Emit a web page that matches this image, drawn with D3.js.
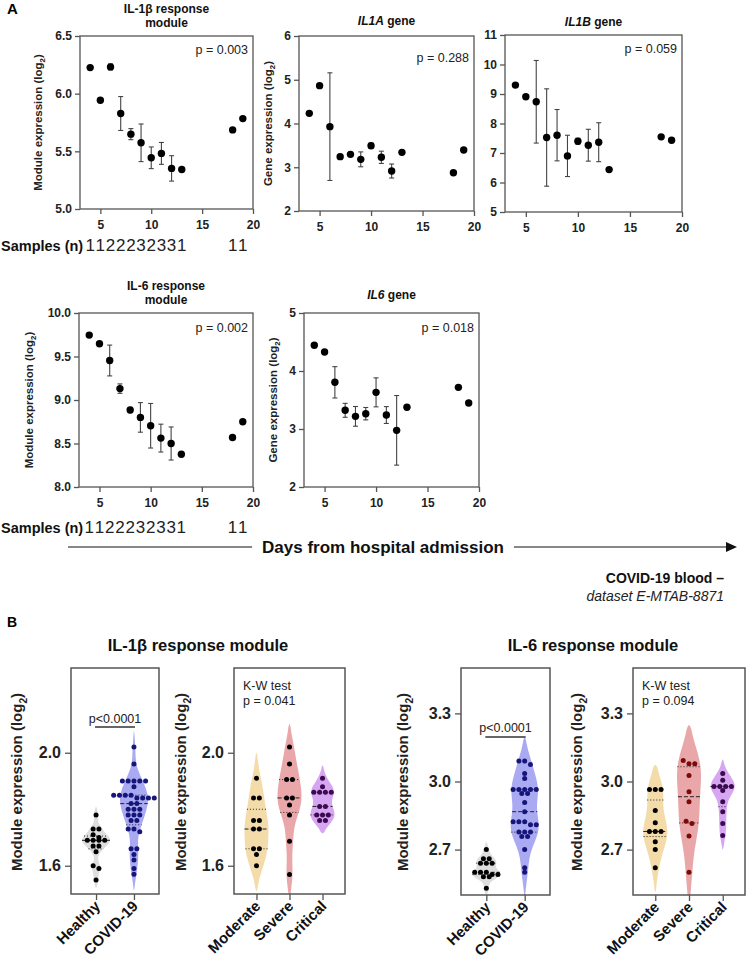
<!DOCTYPE html>
<html><head><meta charset="utf-8">
<script src="https://cdn.jsdelivr.net/npm/d3@7"></script>
<style>body{margin:0;background:#fff}</style>
</head><body><svg id="c" width="747" height="971"></svg>
<script>
// ---------------- DATA ----------------
const days = [4,5,6,7,8,9,10,11,12,13,18,19];
const samplesN = [1,1,2,2,2,3,2,3,3,1,1,1];
const il1bModuleMean = [6.226,5.943,6.232,5.828,5.649,5.574,5.444,5.482,5.352,5.343,5.686,5.784];
const il1bModuleSem  = [null,null,0.026,0.147,0.048,0.163,0.094,0.095,0.11,null,null,null];
const il1aGeneMean = [4.232,4.865,3.928,3.242,3.295,3.181,3.493,3.227,2.914,3.341,2.876,3.394];
const il1aGeneSem  = [null,null,1.23,0.05,0.05,0.17,0.06,0.14,0.16,null,null,null];
const il1bGeneMean = [9.302,8.906,8.736,7.525,7.604,6.902,7.40,7.264,7.366,6.438,7.547,7.434];
const il1bGeneSem  = [null,null,1.40,1.65,0.87,0.70,0.10,0.54,0.66,null,null,null];
const il6ModuleMean = [9.746,9.646,9.454,9.131,8.885,8.80,8.704,8.562,8.50,8.377,8.569,8.75];
const il6ModuleSem  = [null,null,0.177,0.054,0.03,0.17,0.256,0.16,0.19,null,null,null];
const il6GeneMean = [4.443,4.328,3.805,3.322,3.218,3.264,3.632,3.241,2.977,3.374,3.718,3.448];
const il6GeneSem  = [null,null,0.27,0.12,0.17,0.107,0.25,0.145,0.60,null,null,null];
const xTicksA = [5,10,15,20];
const yTicksIl1bModule = [5.0,5.5,6.0,6.5];
const yTicksIl1aGene = [2,3,4,5,6];
const yTicksIl1bGene = [5,6,7,8,9,10,11];
const yTicksIl6Module = [8.0,8.5,9.0,9.5,10.0];
const yTicksIl6Gene = [2,3,4,5];

const groupsHC = ['Healthy','COVID-19'];
const groupsSev = ['Moderate','Severe','Critical'];
const il1bHealthy = [1.78,1.73,1.73,1.71,1.70,1.69,1.69,1.69,1.69,1.67,1.67,1.65,1.60,1.59,1.55];
const il1bCovid = [2.02,1.96,1.90,1.90,1.90,1.90,1.90,1.88,1.85,1.85,1.85,1.85,1.84,1.84,1.84,1.84,1.82,1.82,1.80,1.80,1.80,1.78,1.78,1.78,1.76,1.76,1.73,1.73,1.72,1.66,1.66,1.64,1.62,1.59,1.57];
const il1bModerate = [1.91,1.84,1.84,1.76,1.76,1.73,1.73,1.66,1.66,1.64,1.60];
const il1bSevere = [2.02,1.96,1.905,1.905,1.84,1.84,1.815,1.78,1.687,1.569];
const il1bCritical = [1.91,1.88,1.86,1.86,1.86,1.86,1.81,1.81,1.78,1.78,1.78,1.76,1.76];
const il6Healthy = [2.70,2.66,2.66,2.64,2.64,2.64,2.60,2.60,2.60,2.59,2.59,2.58,2.58,2.53];
const il6Covid = [3.09,3.09,3.075,3.035,3.013,2.965,2.965,2.965,2.965,2.965,2.947,2.947,2.908,2.867,2.823,2.823,2.823,2.809,2.809,2.777,2.777,2.777,2.758,2.758,2.70,2.62,2.60];
const il6Moderate = [2.965,2.965,2.965,2.872,2.818,2.78,2.78,2.78,2.735,2.70,2.62];
const il6Severe = [3.092,3.078,3.078,3.026,2.955,2.911,2.825,2.815,2.76,2.60];
const il6Critical = [3.035,3.006,2.978,2.978,2.978,2.978,2.96,2.911,2.867,2.815,2.762];
const yTicksIl1bB = [1.6,2.0];
const yTicksIl6B = [2.7,3.0,3.3];

// ---------------- DRAW ----------------
const FONT = 'Arial, "Liberation Sans", Helvetica, sans-serif';
const AX = '#555';
const svg = d3.select('#c');

function styleAxis(sel, fs) {
  sel.select('.domain').remove();
  sel.selectAll('line').attr('stroke', AX).attr('stroke-width', 1.3);
  sel.selectAll('text').attr('font-family', FONT).attr('font-weight', 'bold')
     .attr('font-size', fs).attr('fill', '#222');
}
function ylabel(g, x, yc, txt, fs) {
  const t = g.append('text').attr('transform', `translate(${x},${yc}) rotate(-90)`)
    .attr('text-anchor', 'middle').attr('font-family', FONT).attr('font-weight', 'bold')
    .attr('font-size', fs).attr('fill', '#222');
  t.append('tspan').text(txt + ' (log');
  t.append('tspan').text('2').attr('font-size', fs * 0.68).attr('dy', fs * 0.3);
  t.append('tspan').text(')').attr('dy', -fs * 0.3);
}

function scatterPanel(c) {
  const x = d3.scaleLinear().domain([3, 20]).range([c.left, c.right]);
  const y = d3.scaleLinear().domain(c.ydom).range([c.bottom, c.top]);
  const g = svg.append('g');
  g.append('g').attr('transform', `translate(${c.left},0)`)
    .call(d3.axisLeft(y).tickValues(c.yticks).tickFormat(c.fmt).tickSize(5).tickPadding(3))
    .call(s => styleAxis(s, 12));
  g.append('g').attr('transform', `translate(0,${c.bottom})`)
    .call(d3.axisBottom(x).tickValues(xTicksA).tickSize(5).tickPadding(6))
    .call(s => styleAxis(s, 12));
  g.append('rect').attr('x', c.left).attr('y', c.top).attr('width', c.right - c.left)
    .attr('height', c.bottom - c.top).attr('fill', 'none').attr('stroke', AX).attr('stroke-width', 1.3);
  c.title.forEach((line, li) => {
    const t = g.append('text').attr('x', (c.left + c.right) / 2).attr('y', c.titleY + li * 14)
      .attr('text-anchor', 'middle').attr('font-family', FONT).attr('font-weight', 'bold')
      .attr('font-size', 12).attr('fill', '#111');
    line.forEach(seg => t.append('tspan').text(seg[0]).attr('font-style', seg[1] ? 'italic' : 'normal'));
  });
  g.append('text').attr('x', c.right - 5).attr('y', c.pY).attr('text-anchor', 'end')
    .attr('font-family', FONT).attr('font-size', 12.5).attr('fill', '#222').text(c.p);
  if (c.ylab) ylabel(g, c.ylabX, (c.top + c.bottom) / 2, c.ylab, 11.5);
  const eb = g.append('g').attr('stroke', '#444').attr('stroke-width', 1.1);
  days.forEach((d, i) => {
    const s = c.sem[i]; if (s == null) return;
    const m = c.mean[i];
    eb.append('line').attr('x1', x(d)).attr('x2', x(d)).attr('y1', y(m - s)).attr('y2', y(m + s));
    [m - s, m + s].forEach(v => eb.append('line').attr('x1', x(d) - 2.5).attr('x2', x(d) + 2.5)
      .attr('y1', y(v)).attr('y2', y(v)));
  });
  g.append('g').selectAll('circle').data(days).join('circle')
    .attr('cx', d => x(d)).attr('cy', (d, i) => y(c.mean[i])).attr('r', 3.7).attr('fill', '#000');
  if (c.samplesY) {
    g.append('text').attr('x', 1).attr('y', c.samplesY).attr('font-family', FONT)
      .attr('font-weight', 'bold').attr('font-size', 14.5).attr('fill', '#111').text('Samples (n)');
    g.append('g').selectAll('text').data(days).join('text')
      .attr('x', d => x(d)).attr('y', c.samplesY).attr('text-anchor', 'middle')
      .attr('font-family', FONT).attr('font-size', 17).attr('fill', '#222')
      .text((d, i) => samplesN[i]);
  }
}

scatterPanel({left: 80, right: 253, top: 36, bottom: 209, ydom: [5, 6.5], yticks: yTicksIl1bModule,
  fmt: d3.format('.1f'), mean: il1bModuleMean, sem: il1bModuleSem,
  title: [[['IL-1β response', 0]], [['module', 0]]], titleY: 13, p: 'p = 0.003', pY: 54,
  ylab: 'Module expression', ylabX: 42, samplesY: 251});
scatterPanel({left: 299, right: 474, top: 36, bottom: 211, ydom: [2, 6], yticks: yTicksIl1aGene,
  fmt: d3.format('d'), mean: il1aGeneMean, sem: il1aGeneSem,
  title: [[['IL1A', 1], [' gene', 0]]], titleY: 25, p: 'p = 0.288', pY: 62,
  ylab: 'Gene expression', ylabX: 272});
scatterPanel({left: 505, right: 682, top: 35, bottom: 212, ydom: [5, 11], yticks: yTicksIl1bGene,
  fmt: d3.format('d'), mean: il1bGeneMean, sem: il1bGeneSem,
  title: [[['IL1B', 1], [' gene', 0]]], titleY: 26, p: 'p = 0.059', pY: 53});
scatterPanel({left: 79, right: 253, top: 313, bottom: 487, ydom: [8, 10], yticks: yTicksIl6Module,
  fmt: d3.format('.1f'), mean: il6ModuleMean, sem: il6ModuleSem,
  title: [[['IL-6 response', 0]], [['module', 0]]], titleY: 290, p: 'p = 0.002', pY: 332,
  ylab: 'Module expression', ylabX: 33, samplesY: 533});
scatterPanel({left: 304, right: 479, top: 313, bottom: 487, ydom: [2, 5], yticks: yTicksIl6Gene,
  fmt: d3.format('d'), mean: il6GeneMean, sem: il6GeneSem,
  title: [[['IL6', 1], [' gene', 0]]], titleY: 299, p: 'p = 0.018', pY: 332,
  ylab: 'Gene expression', ylabX: 277});

svg.append('text').attr('x', 7).attr('y', 14).attr('font-family', FONT).attr('font-weight', 'bold')
  .attr('font-size', 15).text('A');
svg.append('text').attr('x', 7).attr('y', 627).attr('font-family', FONT).attr('font-weight', 'bold')
  .attr('font-size', 14).text('B');

{
  const ay = 547;
  const t = svg.append('text').attr('x', 383).attr('y', ay + 6).attr('text-anchor', 'middle')
    .attr('font-family', FONT).attr('font-weight', 'bold').attr('font-size', 17).attr('fill', '#111')
    .text('Days from hospital admission');
  const w = t.node().getComputedTextLength();
  svg.append('line').attr('x1', 68).attr('x2', 383 - w / 2 - 10).attr('y1', ay).attr('y2', ay)
    .attr('stroke', '#111').attr('stroke-width', 1.2);
  svg.append('line').attr('x1', 383 + w / 2 + 10).attr('x2', 728).attr('y1', ay).attr('y2', ay)
    .attr('stroke', '#111').attr('stroke-width', 1.2);
  svg.append('path').attr('d', `M737,${ay} L726,${ay - 5} L726,${ay + 5} Z`).attr('fill', '#111');
  svg.append('text').attr('x', 724).attr('y', 583).attr('text-anchor', 'end').attr('font-family', FONT)
    .attr('font-weight', 'bold').attr('font-size', 14).attr('fill', '#111').text('COVID-19 blood –');
  svg.append('text').attr('x', 724).attr('y', 601).attr('text-anchor', 'end').attr('font-family', FONT)
    .attr('font-style', 'italic').attr('font-size', 14).attr('fill', '#222').text('dataset E-MTAB-8871');
}

[['IL-1β response module', 198], ['IL-6 response module', 593]].forEach(([t, cx]) => {
  svg.append('text').attr('x', cx).attr('y', 651).attr('text-anchor', 'middle')
    .attr('font-family', FONT).attr('font-weight', 'bold').attr('font-size', 16.5)
    .attr('fill', '#111').text(t);
});

let clipId = 0;
function violinPanel(c) {
  const x = d3.scalePoint().domain(c.groups.map(d => d.name)).range([c.left, c.right]).padding(c.pad);
  const y = d3.scaleLinear().domain(c.ydom).range([c.bottom, c.top]);
  const g = svg.append('g');
  const id = 'clip' + (clipId++);
  g.append('clipPath').attr('id', id).append('rect').attr('x', c.left).attr('y', c.top)
    .attr('width', c.right - c.left).attr('height', c.bottom - c.top);
  const body = g.append('g').attr('clip-path', `url(#${id})`);
  c.groups.forEach(gr => {
    const vals = gr.values.slice().sort(d3.ascending);
    const n = vals.length;
    const sd = d3.deviation(vals);
    const iqr = d3.quantile(vals, 0.75) - d3.quantile(vals, 0.25);
    const bw = 0.9 * Math.min(sd, iqr / 1.34 || sd) * Math.pow(n, -0.2);
    const dens = v => d3.mean(vals, d => Math.exp(-0.5 * ((v - d) / bw) ** 2));
    const lo = vals[0] - 1.7 * bw, hi = vals[n - 1] + 1.7 * bw;
    const pts = d3.range(61).map(i => lo + (hi - lo) * i / 60);
    const dv = pts.map(dens);
    const mx = d3.max(dv);
    const wf = v => c.maxW * dens(v) / mx;
    const prof = pts.map((p, i) => [p, (i === 0 || i === 60) ? 0 : c.maxW * dv[i] / mx]);
    const cx = x(gr.name);
    body.append('path').datum(prof)
      .attr('d', d3.area().curve(d3.curveBasis).y(d => y(d[0]))
        .x0(d => cx - d[1]).x1(d => cx + d[1]))
      .attr('fill', gr.fill).attr('stroke', 'none');
    [[0.25, '1,2'], [0.5, '4,2'], [0.75, '1,2']].forEach(([q, da]) => {
      const v = d3.quantile(vals, q);
      const w = wf(v);
      body.append('line').attr('x1', cx - w).attr('x2', cx + w).attr('y1', y(v)).attr('y2', y(v))
        .attr('stroke', '#222').attr('stroke-width', 1).attr('stroke-dasharray', da);
    });
    const desc = vals.slice().sort(d3.descending);
    const rows = [];
    desc.forEach(v => {
      const last = rows[rows.length - 1];
      if (last && Math.abs(y(v) - y(last[0])) < 3.5) last.push(v); else rows.push([v]);
    });
    const dots = [];
    rows.forEach(r => r.forEach((v, i) => dots.push([cx + (i - (r.length - 1) / 2) * 5.8, y(v)])));
    body.append('g').selectAll('circle').data(dots).join('circle')
      .attr('cx', d => d[0]).attr('cy', d => d[1]).attr('r', 2.5).attr('fill', gr.dot);
  });
  g.append('g').attr('transform', `translate(${c.left},0)`)
    .call(d3.axisLeft(y).tickValues(c.yticks).tickFormat(d3.format('.1f')).tickSize(6).tickPadding(4))
    .call(s => styleAxis(s, 16));
  g.append('g').attr('transform', `translate(0,${c.bottom})`)
    .call(d3.axisBottom(x).tickSize(6).tickFormat(''))
    .call(s => styleAxis(s, 15));
  g.append('rect').attr('x', c.left).attr('y', c.top).attr('width', c.right - c.left)
    .attr('height', c.bottom - c.top).attr('fill', 'none').attr('stroke', AX).attr('stroke-width', 1.5);
  g.append('g').selectAll('text').data(c.groups).join('text')
    .attr('transform', d => `translate(${x(d.name) + 5},${c.bottom + 13}) rotate(-45)`)
    .attr('text-anchor', 'end').attr('font-family', FONT).attr('font-weight', 'bold')
    .attr('font-size', 15).attr('fill', '#111').text(d => d.name);
  ylabel(g, c.ylabX, 782, 'Module expression', 15);
  if (c.pair) {
    const [a, b] = c.groups.map(d => x(d.name));
    g.append('text').attr('x', (a + b) / 2).attr('y', c.pair.ty).attr('text-anchor', 'middle')
      .attr('font-family', FONT).attr('font-size', 12.5).attr('fill', '#222').text('p<0.0001');
    g.append('line').attr('x1', a - 1).attr('x2', b + 1).attr('y1', c.pair.ly).attr('y2', c.pair.ly)
      .attr('stroke', '#333').attr('stroke-width', 1.3);
  }
  if (c.kw) {
    g.append('text').attr('x', c.left + 9).attr('y', c.top + 22).attr('font-family', FONT)
      .attr('font-size', 12.5).attr('fill', '#222').text('K-W test');
    g.append('text').attr('x', c.left + 9).attr('y', c.top + 37).attr('font-family', FONT)
      .attr('font-size', 12.5).attr('fill', '#222').text(c.kw);
  }
}

const cHealthyFill = '#dedede', cCovidFill = '#aaaaf2', cModFill = '#f3dcaa',
      cSevFill = '#e9a7aa', cCritFill = '#d6a6f2';
violinPanel({left: 71, right: 159, top: 668, bottom: 894, ydom: [1.5, 2.3], yticks: yTicksIl1bB, pad: 0.66,
  maxW: 14, ylabX: 22, pair: {ty: 723, ly: 727},
  groups: [{name: groupsHC[0], values: il1bHealthy, fill: cHealthyFill, dot: '#000'},
           {name: groupsHC[1], values: il1bCovid, fill: cCovidFill, dot: '#16167a'}]});
violinPanel({left: 234, right: 345, top: 668, bottom: 894, ydom: [1.5, 2.3], yticks: yTicksIl1bB, pad: 0.68,
  maxW: 12, ylabX: 186, kw: 'p = 0.041',
  groups: [{name: groupsSev[0], values: il1bModerate, fill: cModFill, dot: '#000'},
           {name: groupsSev[1], values: il1bSevere, fill: cSevFill, dot: '#000'},
           {name: groupsSev[2], values: il1bCritical, fill: cCritFill, dot: '#3b0a4f'}]});
violinPanel({left: 461, right: 550, top: 668, bottom: 895, ydom: [2.5, 3.5], yticks: yTicksIl6B, pad: 0.66,
  maxW: 14, ylabX: 408, pair: {ty: 732, ly: 737},
  groups: [{name: groupsHC[0], values: il6Healthy, fill: cHealthyFill, dot: '#000'},
           {name: groupsHC[1], values: il6Covid, fill: cCovidFill, dot: '#16167a'}]});
violinPanel({left: 633, right: 745, top: 668, bottom: 895, ydom: [2.5, 3.5], yticks: yTicksIl6B, pad: 0.66,
  maxW: 12, ylabX: 582, kw: 'p = 0.094',
  groups: [{name: groupsSev[0], values: il6Moderate, fill: cModFill, dot: '#000'},
           {name: groupsSev[1], values: il6Severe, fill: cSevFill, dot: '#7a0a0a'},
           {name: groupsSev[2], values: il6Critical, fill: cCritFill, dot: '#3b0a4f'}]});
</script></body></html>
